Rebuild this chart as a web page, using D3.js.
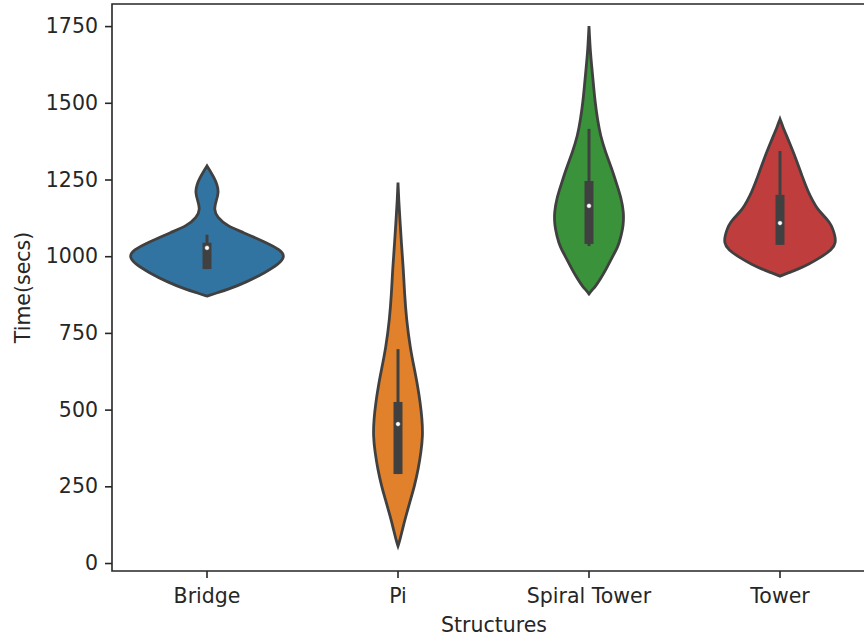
<!DOCTYPE html>
<html lang="en">
<head>
    <meta charset="UTF-8">
    <title>Violin plot: time per structure</title>
    <script src="https://d3js.org/d3.v7.min.js"></script>
    <style>
        body { margin: 0; background: white; }
        text { font-family: "DejaVu Sans", sans-serif; fill: #262626; }
        .violin { stroke: #404040; stroke-width: 2.8; }
    </style>
</head>
<body>
<svg height="637" width="864"></svg>

<script>
    const categories = ["Bridge", "Pi", "Spiral Tower", "Tower"];
    const colors     = ["#3274a1", "#e1812c", "#3a923a", "#c03d3e"];
    const yTicks     = [0, 250, 500, 750, 1000, 1250, 1500, 1750];

    // density profiles: [time, relative width]
    const bridgeDensity = [[870,0],[880,0.12],[891,0.27],[916,0.52],[948,0.77],[975,0.94],[997,1.02],[1020,0.97],
        [1046,0.76],[1079,0.46],[1098,0.27],[1127,0.13],[1154,0.09],[1180,0.12],[1209,0.155],
        [1235,0.13],[1252,0.1],[1274,0.05],[1294,0]];
    const piDensity = [[55,0],[70,0.02],[111,0.06],[150,0.1],[199,0.155],[250,0.215],[306,0.265],
        [360,0.3],[414,0.325],[470,0.315],[524,0.29],[580,0.255],[632,0.215],[700,0.16],[795,0.11],
        [880,0.085],[958,0.07],[1040,0.045],[1121,0.025],[1180,0.01],[1240,0]];
    const spiralDensity = [[877,0],[890,0.04],[900,0.08],[926,0.15],[960,0.23],[991,0.29],[1030,0.38],
        [1066,0.42],[1100,0.45],[1144,0.455],[1190,0.42],[1229,0.37],[1284,0.3],[1340,0.215],
        [1392,0.15],[1447,0.11],[1502,0.08],[1555,0.06],[1620,0.035],[1675,0.015],[1750,0]];
    const towerDensity = [[935,0],[945,0.1],[958,0.24],[975,0.38],[991,0.5],[1023,0.69],[1045,0.73],
        [1066,0.72],[1090,0.69],[1111,0.65],[1135,0.56],[1154,0.49],[1180,0.43],[1209,0.37],
        [1260,0.29],[1317,0.21],[1360,0.14],[1392,0.087],[1420,0.04],[1447,0]];
    const densities = [bridgeDensity, piDensity, spiralDensity, towerDensity];

    // inner box stats
    const whiskerLow  = [958, 290, 1033, 1037];
    const q1          = [958, 290, 1040, 1037];
    const median      = [1027, 453, 1164, 1108];
    const q3          = [1044, 525, 1245, 1200];
    const whiskerHigh = [1070, 697, 1415, 1343];

    const svg = d3.select("svg");
    const mLeft = 112, mTop = 4, mBottom = 571, mRight = 876;

    const x = d3.scaleBand().domain(categories).range([mLeft - 0.5, mRight - 0.5]);
    const y = d3.scaleLinear().domain([-26, 1822]).range([mBottom, mTop]);
    const w = d3.scaleLinear().domain([0, 1]).range([0, 0.4 * x.bandwidth()]);
    const cx = c => x(c) + x.bandwidth() / 2;

    const rows = categories.map((c, i) => ({
        cat: c, color: colors[i], dens: densities[i],
        wl: whiskerLow[i], q1: q1[i], med: median[i], q3: q3[i], wh: whiskerHigh[i]
    }));

    // violins
    svg.selectAll("path.violin")
       .data(rows)
          .join("path").attr("class", "violin")
            .attr("fill", d => d.color)
            .attr("d", d => d3.area()
                .curve(d3.curveBasis)
                .y(p => y(p[0]))
                .x0(p => cx(d.cat) - w(p[1]))
                .x1(p => cx(d.cat) + w(p[1]))(d.dens));

    // whiskers
    svg.selectAll("line.whisker")
       .data(rows)
          .join("line").attr("class", "whisker")
            .attr("x1", d => cx(d.cat)).attr("x2", d => cx(d.cat))
            .attr("y1", d => y(d.wl)).attr("y2", d => y(d.wh))
            .attr("stroke", "#404040").attr("stroke-width", 3);

    // boxes
    svg.selectAll("line.box")
       .data(rows)
          .join("line").attr("class", "box")
            .attr("x1", d => cx(d.cat)).attr("x2", d => cx(d.cat))
            .attr("y1", d => y(d.q1)).attr("y2", d => y(d.q3))
            .attr("stroke", "#404040").attr("stroke-width", 9);

    // medians
    svg.selectAll("circle.median")
       .data(rows)
          .join("circle").attr("class", "median")
            .attr("cx", d => cx(d.cat)).attr("cy", d => y(d.med))
            .attr("r", 2.4)
            .attr("fill", "white").attr("stroke", "#404040").attr("stroke-width", 0.6);

    // axes
    const yAxis = svg.append("g")
        .attr("transform", `translate(${mLeft},0)`)
        .call(d3.axisLeft(y).tickValues(yTicks).tickFormat(d3.format("d")).tickSize(7).tickPadding(7));
    const xAxis = svg.append("g")
        .attr("transform", `translate(0,${mBottom})`)
        .call(d3.axisBottom(x).tickSize(7).tickPadding(10));

    [xAxis, yAxis].forEach(g => {
        g.select(".domain").remove();
        g.selectAll("line").attr("stroke", "#262626").attr("stroke-width", 1.6);
        g.selectAll("text").style("font-size", "20.5px").attr("fill", "#262626");
    });

    // spines (right one falls outside the picture)
    svg.append("path")
       .attr("d", `M${mRight},${mTop}H${mLeft}V${mBottom}H${mRight}`)
       .attr("fill", "none").attr("stroke", "#262626").attr("stroke-width", 1.6);

    svg.append("text")
       .attr("x", (mLeft + mRight) / 2).attr("y", 632)
       .attr("text-anchor", "middle").style("font-size", "20.5px")
       .text("Structures");

    svg.append("text")
       .attr("transform", `translate(30,${(mTop + mBottom) / 2}) rotate(-90)`)
       .attr("text-anchor", "middle").style("font-size", "20.5px")
       .text("Time(secs)");
</script>

</body>
</html>
